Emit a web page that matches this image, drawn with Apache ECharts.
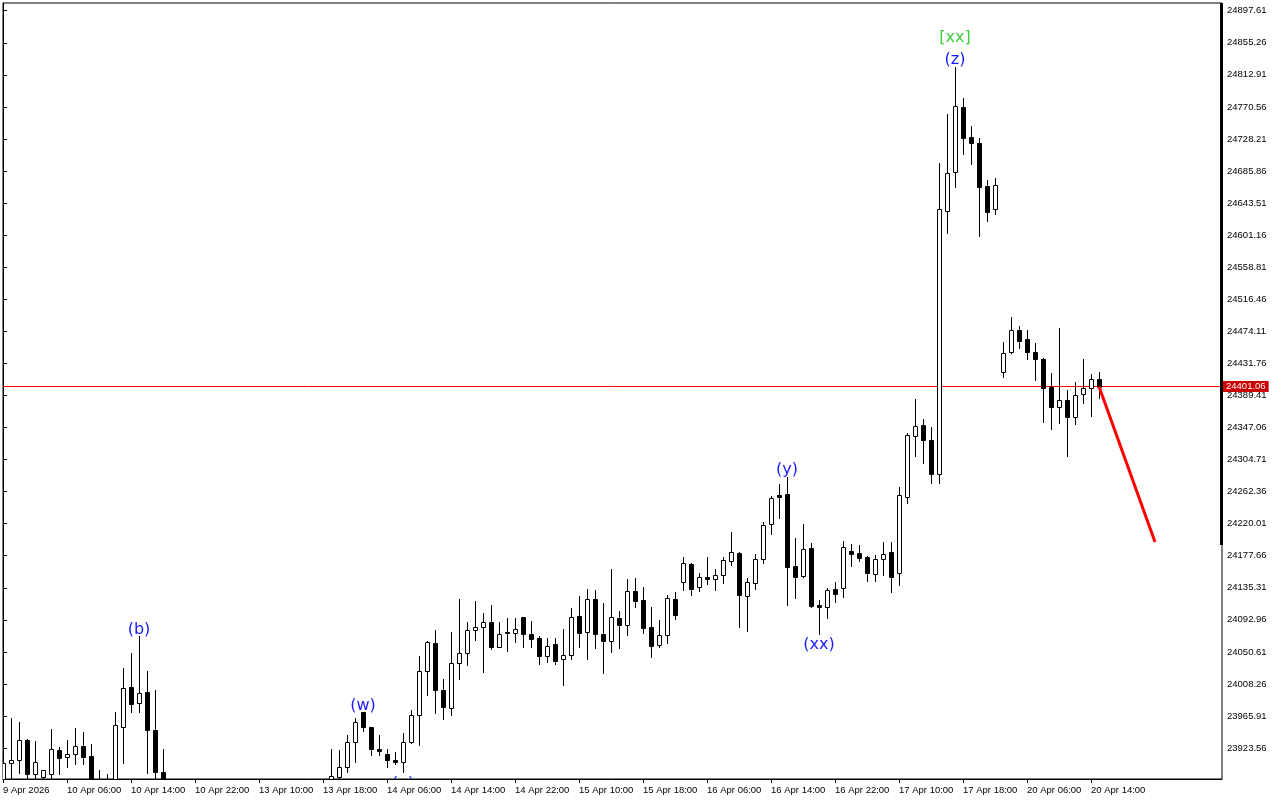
<!DOCTYPE html>
<html>
<head>
<meta charset="utf-8">
<script src="https://cdn.jsdelivr.net/npm/echarts@6/dist/echarts.min.js"></script>
<style>
html,body{margin:0;padding:0;background:#fff;}
#c{width:1280px;height:800px;}
</style>
</head>
<body>
<div id="c"></div>
<script>
// ---- data (hourly candles, index = bar number) ----
const opens = [23872,23904.2,23907.3,23934.2,23888.9,23884.9,23888.9,23920.5,23912.1,23915.2,
23926.1,23913.0,23872,23862,23870,23950.9,24003.8,23982.6,23997.6,23946.9,
23891.9,null,null,null,null,null,null,null,null,null,
null,null,null,null,null,null,null,null,null,null,
null,23876,23885.7,23898.1,23931.2,23970.8,23950.9,23921.9,23915.2,23907.3,
23905.5,23931.2,23966.8,24025.3,24061.9,23999.9,23976.1,24036.3,24048.7,24079.1,
24083.1,24089.7,24057.4,24076.9,24075.2,24096.3,24074.2,24068.5,24045.6,24060.6,
24040.8,24046.1,24098.0,24076.5,24120.1,24073.8,24064.6,24094.9,24085.7,24130.6,
24118.7,24083.1,24059.3,24072.5,24120.5,24143.3,24166.3,24135.9,24149.5,24146.5,
24151.7,24170.3,24180.8,24124.0,24141.2,24172.9,24219.1,24257.9,24259.1,24163.6,
24150.4,24187.4,24112.5,24109.5,24133.3,24134.6,24183.9,24181.3,24176.0,24153.5,
24172.9,24182.2,24155.2,24255.6,24336.2,24350.3,24330.5,24285.6,24633.4,24684.1,
24770.0,24731.2,24722.8,24666.4,24635.3,24419.9,24446.4,24475.4,24463.5,24446.4,
24437.5,24400.5,24373.7,24383.3,24360.5,24390.9,24398.8,24410.7];
const closes = [23903.4,23907.4,23933.8,23888.9,23904.6,23894.2,23921.9,23910.7,23915.7,23926.1,
23912.1,23875,23866,23868,23953.5,24002.5,23982.1,23995.8,23947.8,23892.3,
23868,null,null,null,null,null,null,null,null,null,
null,null,null,null,null,null,null,null,null,null,
null,23886.3,23898.1,23931.2,23957.5,23950.9,23921.9,23920.1,23907.3,23905.5,
23931.2,23966.8,24025.3,24063.3,23999.9,23978.2,24035.5,24048.7,24079.5,24083.1,
24089.7,24057.4,24073.8,24075.2,24080.4,24073.8,24068.0,24045.6,24058.0,24039.0,
24046.1,24097.1,24075.2,24120.1,24073.8,24064.6,24096.3,24085.7,24130.6,24117.4,
24082.5,24058.7,24072.5,24121.4,24099.0,24167.6,24134.1,24149.1,24146.5,24151.7,
24171.6,24182.2,24125.3,24142.5,24172.9,24217.8,24253.5,24255.6,24162.3,24149.9,
24186.1,24111.6,24109.5,24131.9,24126.7,24188.7,24180.3,24175.0,24154.4,24172.9,
24179.5,24149.9,24257.5,24337.1,24349.0,24330.5,24285.6,24635.7,24682.8,24771.7,
24729.0,24722.4,24665.1,24632.1,24667.4,24445.8,24475.8,24461.7,24446.4,24437.9,
24398.8,24373.7,24383.3,24361.3,24389.5,24398.8,24410.7,24401.06];
const lows = [23860,23870,23890.2,23875,23878,23878,23879,23888.9,23898.1,23902.5,
23902.9,23868,23858,23852,23862,23904.2,23971.1,23971.1,23891.0,23876,
23860,null,null,null,null,null,null,null,null,null,
null,null,null,null,null,null,null,null,null,null,
null,23868,23876,23892.3,23905.5,23946.4,23914.4,23914.4,23899.0,23902.1,
23892.3,23930.5,23927.7,23994.0,23969.5,23961.5,23967.2,24014.4,24033.3,24066.3,
24024.4,24054.0,24057.4,24051.8,24063.6,24057.4,24057.4,24035.0,24037.6,24035.0,
24006.8,24041.6,24057.4,24041.6,24056.1,24022.3,24050.8,24056.1,24072.5,24109.5,
24075.9,24044.2,24057.4,24061.9,24094.4,24132.4,24125.7,24131.5,24140.3,24132.4,
24141.2,24165.0,24083.9,24078.6,24133.3,24168.4,24205.9,24227.1,24112.1,24122.2,
24149.9,24110.3,24073.8,24094.9,24116.9,24123.5,24164.5,24170.7,24144.6,24144.6,
24151.7,24130.1,24138.6,24246.9,24309.8,24300.5,24273.3,24273.3,24603.5,24664.3,
24707.9,24694.7,24600.4,24620.2,24628.6,24413.3,24445.0,24452.4,24437.9,24410.1,
24354.7,24344.6,24352.6,24309.8,24351.2,24379.9,24362.6,24386.4];
const highs = [23903.4,23963.6,23957.9,23935.5,23932.8,23894.6,23948.7,23924.8,23933.8,23950.0,
23944.7,23928.9,23894.6,23888.9,23971.1,24029.3,24049.5,24071.6,24025.3,24000.2,
23922.3,null,null,null,null,null,null,null,null,null,
null,null,null,null,null,null,null,null,null,null,
null,23922.3,23921.0,23940.9,23962.9,23970.8,23951.3,23940.8,23921.9,23917.9,
23943.3,23973.8,24045.1,24065.3,24079.5,24014.4,24076.9,24120.1,24089.7,24117.8,
24101.6,24112.5,24089.7,24094.9,24094.9,24096.3,24091.4,24071.6,24068.5,24068.5,
24080.8,24108.2,24124.4,24133.3,24132.4,24114.8,24159.7,24104.6,24146.9,24147.8,
24135.9,24109.5,24092.3,24125.4,24130.1,24175.5,24167.6,24154.4,24175.5,24160.1,
24175.5,24209.0,24182.2,24148.2,24179.5,24222.2,24256.9,24272.4,24282.0,24201.0,
24219.5,24194.0,24119.1,24134.6,24142.5,24197.1,24193.1,24191.8,24177.3,24178.2,
24195.4,24195.4,24268.0,24339.3,24384.7,24358.2,24347.2,24696.0,24761.1,24822.8,
24781.9,24745.3,24729.0,24673.9,24676.2,24460.4,24493.4,24481.1,24475.4,24458.6,
24438.4,24419.0,24478.5,24396.6,24407.1,24437.5,24417.7,24420.3];

// time-axis labels, one every 8 bars
const timeLabels = ['9 Apr 2026','10 Apr 06:00','10 Apr 14:00','10 Apr 22:00','13 Apr 10:00',
'13 Apr 18:00','14 Apr 06:00','14 Apr 14:00','14 Apr 22:00','15 Apr 10:00','15 Apr 18:00',
'16 Apr 06:00','16 Apr 14:00','16 Apr 22:00','17 Apr 10:00','17 Apr 18:00','20 Apr 06:00','20 Apr 14:00'];
const timeLabelBars = [0,8,16,24,32,40,48,56,64,72,80,88,96,104,112,120,128,136];

// price-axis labels
const priceLabels = ['23923.56','23965.91','24008.26','24050.61','24092.96','24135.31','24177.66',
'24220.01','24262.36','24304.71','24347.06','24389.41','24431.76','24474.11','24516.46',
'24558.81','24601.16','24643.51','24685.86','24728.21','24770.56','24812.91','24855.26','24897.61'];

const currentPrice = 24401.06;

// wave labels
const waveText  = ['(b)','(w)','(x)','(y)','(xx)','(z)','[xx]'];
const waveBar   = [17, 45, 50, 98, 102, 119, 119];
const wavePrice = [24082.2, 23981.7, 23878.7, 24293.5, 24062.3, 24835.1, 24864.2];
const waveColor = ['#1a1aff','#1a1aff','#1a1aff','#1a1aff','#1a1aff','#1a1aff','#3ccf3c'];

// forecast line
const forecastBar   = [137, 144];
const forecastPrice = [24401.06, 24195.7];

// ---- build ----
const candleData = [];
for (let i = 0; i < opens.length; i++) {
  if (opens[i] == null) continue;
  candleData.push([i, opens[i], closes[i], lows[i], highs[i]]);
}
const waveData = waveBar.map((b, i) => [b, wavePrice[i]]);
const forecastData = forecastBar.map((b, i) => [b, forecastPrice[i]]);

function renderCandle(params, api) {
  const x = api.value(0);
  const o = api.value(1), c = api.value(2), l = api.value(3), h = api.value(4);
  const pO = api.coord([x, o]), pC = api.coord([x, c]);
  const pL = api.coord([x, l]), pH = api.coord([x, h]);
  const cx = Math.floor(pO[0]) + 0.5;
  const top = Math.round(Math.min(pO[1], pC[1])) + 0.5;
  let bot = Math.round(Math.max(pO[1], pC[1])) + 0.5;
  const up = c >= o;
  const children = [{
    type: 'line',
    shape: {x1: cx, y1: Math.round(pH[1]), x2: cx, y2: Math.round(pL[1]) + 1},
    style: {stroke: '#000', lineWidth: 1}
  }];
  if (bot - top < 1) {
    children.push({type: 'line', shape: {x1: cx - 2, y1: top, x2: cx + 3, y2: top}, style: {stroke: '#000', lineWidth: 1}});
  } else {
    children.push({
      type: 'rect',
      shape: {x: cx - 2, y: top, width: 4, height: bot - top},
      style: {fill: up ? '#ffffff' : '#000000', stroke: '#000000', lineWidth: 1}
    });
  }
  return {type: 'group', children: children};
}

const FONT = '"Liberation Sans", Arial, sans-serif';
const chart = echarts.init(document.getElementById('c'), null, {renderer: 'canvas'});
chart.setOption({
  backgroundColor: '#ffffff',
  animation: false,
  grid: {left: 3, right: 58, top: 3, bottom: 21, show: true, borderColor: '#000', borderWidth: 1},
  xAxis: {
    type: 'value', min: 0, max: 152.375,
    splitLine: {show: false},
    axisLine: {show: true, onZero: false, lineStyle: {color: '#000', width: 1}},
    axisTick: {show: true, length: 4, lineStyle: {color: '#000'}, customValues: timeLabelBars},
    axisLabel: {
      customValues: timeLabelBars, color: '#000', fontSize: 9.5, fontFamily: FONT,
      align: 'left', margin: 6,
      formatter: v => timeLabels[timeLabelBars.indexOf(Math.round(v))] || ''
    }
  },
  yAxis: {
    type: 'value', position: 'right', min: 23882.7, max: 24907.8, scale: true,
    splitLine: {show: false},
    axisLine: {show: true, lineStyle: {color: '#000', width: 1}},
    axisTick: {show: true, length: 4, lineStyle: {color: '#000'}, customValues: priceLabels.map(Number)},
    axisLabel: {
      customValues: priceLabels.map(Number), color: '#000', fontSize: 9.5, fontFamily: FONT,
      align: 'left', margin: 5,
      formatter: v => v.toFixed(2)
    }
  },
  graphic: [
    {type: 'rect', shape: {x: 1220, y: 3, width: 3, height: 542}, style: {fill: '#000'}, z: 100}
  ],
  series: [
    {
      type: 'custom',
      data: candleData,
      encode: {x: 0, y: [1, 2, 3, 4]},
      clip: true,
      silent: true,
      renderItem: renderCandle,
      markLine: {
        silent: true, symbol: 'none', animation: false,
        lineStyle: {color: '#ff0000', width: 1, type: 'solid'},
        label: {
          show: true, position: 'end', distance: 1,
          formatter: currentPrice.toFixed(2),
          color: '#fff', backgroundColor: '#cc0000', padding: [1, 3, 0, 3],
          fontSize: 9.5, fontFamily: FONT
        },
        data: [{yAxis: currentPrice}]
      },
      z: 5
    },
    {
      type: 'line', data: forecastData, symbol: 'none', silent: true,
      lineStyle: {color: '#ff0000', width: 3}, z: 6
    },
    {
      type: 'custom', data: waveData, clip: true, silent: true, z: 7,
      encode: {x: 0, y: 1},
      renderItem: function (params, api) {
        const p = api.coord([api.value(0), api.value(1)]);
        const k = params.dataIndex;
        return {
          type: 'text', x: p[0], y: p[1] + 2,
          style: {text: waveText[k], fill: waveColor[k], font: '16px "DejaVu Sans"', align: 'center', verticalAlign: 'middle'}
        };
      }
    }
  ]
});
</script>
</body>
</html>
